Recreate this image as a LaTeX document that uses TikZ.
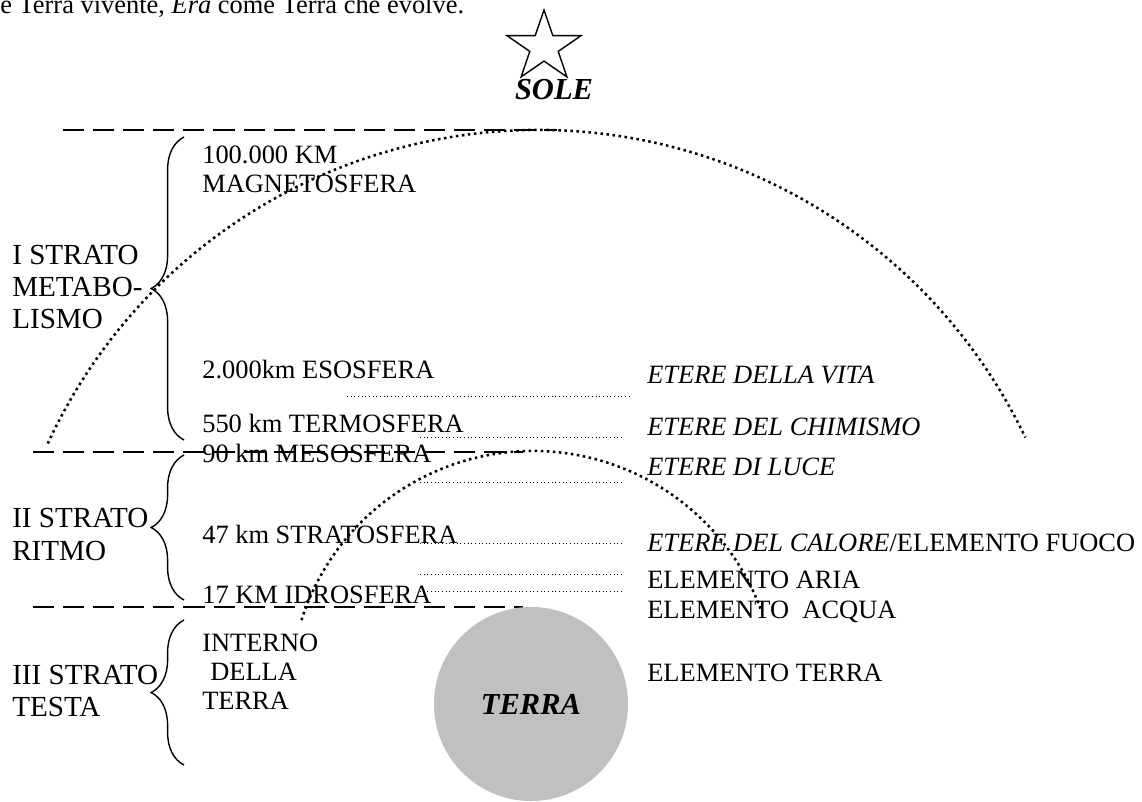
\documentclass[tikz,border=0pt]{standalone}
\usepackage{fontspec}
\setmainfont{Liberation Serif}
\usetikzlibrary{decorations.pathreplacing}
\definecolor{grigio}{HTML}{C0C0C0}

\begin{document}
\begin{tikzpicture}
          [x=0.025cm,y=-0.025cm,
           every node/.style={inner sep=0pt, font=\fontsize{18.8}{22}\selectfont},
           testo/.style={anchor=base west},
           etichetta/.style={anchor=base west, font=\fontsize{20.7}{24}\selectfont},
           titolo/.style={font=\fontsize{21.7}{26}\selectfont\bfseries\itshape},
           strato/.style={line width=2.1pt, dash pattern=on 15pt off 6.4pt},
           orbita/.style={line width=1.8pt, dash pattern=on 1.8pt off 2.5pt},
           puntini/.style={line width=0.7pt, dash pattern=on 0.7pt off 1.9pt},
           graffa/.style={line width=1pt, decorate, decoration={brace, amplitude=0.82cm}}]
        \useasboundingbox (0,0) rectangle (1142,801);

        \node[testo] (intro) at (0,14) {e Terra vivente, \textit{Era} come Terra che evolve.};

        % sole
        \draw[line width=1pt] (544,10) -- (552.8,35.6) -- (581.1,35.6) -- (558.2,51.4) -- (566.9,76.9)
          -- (544,61.1) -- (521.1,76.9) -- (529.8,51.4) -- (506.9,35.6) -- (535.2,35.6) -- cycle;
        \node[titolo] (sole) at (554,90) {SOLE};

        % strati e graffe
        \foreach \y/\a/\b in {130/63/557, 452/33/523, 607/33/523}
          \draw[strato] (\a,\y) -- (\b,\y);
        \foreach \alto/\basso in {137/440, 455/600, 620/765}
          \draw[graffa] (184,\basso) -- (184,\alto);

        % orbite
        \draw[orbita] (47.8,443.5) arc[start angle=204.8, end angle=334.5, radius=540];
        \draw[orbita] (301.5,620.1) arc[start angle=197.7, end angle=339.8, radius=243];

        \foreach \y/\a/\b in {396/347/632, 437/420/623, 482/420/623, 543/420/623, 574/420/623, 591/420/623}
          \draw[puntini] (\a,\y) -- (\b,\y);

        % terra
        \node[circle, fill=grigio, minimum size=4.85cm, titolo] (terra) at (531,704) {TERRA};

        \node[etichetta] (s1a) at (12,264) {I STRATO};
        \node[etichetta] (s1b) at (12,296) {METABO-};
        \node[etichetta] (s1c) at (12,328) {LISMO};
        \node[etichetta] (s2a) at (12,527) {II STRATO};
        \node[etichetta] (s2b) at (12,560) {RITMO};
        \node[etichetta] (s3a) at (12,684) {III STRATO};
        \node[etichetta] (s3b) at (12,716) {TESTA};

        \node[testo] (mag1) at (202,163) {100.000 KM};
        \node[testo] (mag2) at (202,192) {MAGNETOSFERA};
        \node[testo] (eso) at (202,378) {2.000km ESOSFERA};
        \node[testo] (termo) at (202,432) {550 km TERMOSFERA};
        \node[testo] (meso) at (202,462) {90 km MESOSFERA};
        \node[testo] (strato) at (202,543) {47 km STRATOSFERA};
        \node[testo] (idro) at (202,603) {17 KM IDROSFERA};
        \node[testo] (int1) at (202,651) {INTERNO};
        \node[testo] (int2) at (210,680) {DELLA};
        \node[testo] (int3) at (202,709) {TERRA};

        \node[testo] (vita) at (647,383) {\textit{ETERE DELLA VITA}};
        \node[testo] (chim) at (647,435) {\textit{ETERE DEL CHIMISMO}};
        \node[testo] (luce) at (647,475) {\textit{ETERE DI LUCE}};
        \node[testo] (fuoco) at (647,551) {\textit{ETERE DEL CALORE}/ELEMENTO FUOCO};
        \node[testo] (aria) at (647,588) {ELEMENTO ARIA};
        \node[testo] (acqua) at (647,618) {ELEMENTO\ \ ACQUA};
        \node[testo] (elterra) at (647,681) {ELEMENTO TERRA};
      \end{tikzpicture}
\end{document}
